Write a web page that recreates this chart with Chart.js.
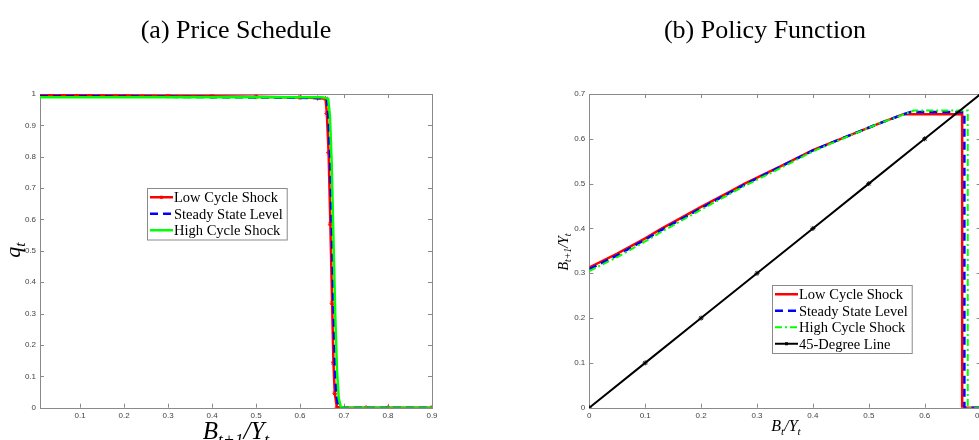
<!DOCTYPE html>
<html>
<head>
<meta charset="utf-8">
<script src="https://cdn.jsdelivr.net/npm/chart.js@4.4.1/dist/chart.umd.min.js"></script>
<style>
  html, body { margin: 0; padding: 0; background: #fff; overflow: hidden; }
  #page { position: relative; width: 979px; height: 440px; overflow: hidden; }
  canvas { position: absolute; top: 0; }
</style>
</head>
<body>
<div id="page">
  <canvas id="priceChart" width="470" height="440" style="left:0"></canvas>
  <canvas id="policyChart" width="470" height="440" style="left:530px"></canvas>
</div>
<script>
// (a) Precio: q_t contra B_{t+1}/Y_t
const priceLowX = [0.009, 0.1, 0.2, 0.3, 0.4, 0.5, 0.6, 0.64, 0.658, 0.661, 0.665, 0.669, 0.673, 0.676, 0.679, 0.684, 0.69, 0.75, 0.8, 0.9];
const priceLowQ = [0.996, 0.996, 0.995, 0.994, 0.993, 0.991, 0.989, 0.987, 0.985, 0.938, 0.813, 0.585, 0.333, 0.143, 0.046, 0.0, 0.0, 0.0, 0.0, 0.0];
const priceSteadyX = [0.009, 0.1, 0.2, 0.3, 0.4, 0.5, 0.6, 0.64, 0.661, 0.664, 0.668, 0.672, 0.676, 0.679, 0.682, 0.687, 0.693, 0.75, 0.8, 0.9];
const priceSteadyQ = [0.993, 0.993, 0.992, 0.991, 0.990, 0.989, 0.988, 0.987, 0.985, 0.94, 0.81, 0.58, 0.33, 0.14, 0.045, 0.003, 0.0, 0.0, 0.0, 0.0];
const priceHighX = [0.009, 0.1, 0.2, 0.3, 0.4, 0.5, 0.6, 0.65, 0.664, 0.668, 0.672, 0.676, 0.68, 0.684, 0.688, 0.693, 0.7, 0.75, 0.8, 0.9];
const priceHighQ = [0.99, 0.99, 0.99, 0.99, 0.99, 0.99, 0.99, 0.99, 0.985, 0.93, 0.78, 0.54, 0.3, 0.12, 0.03, 0.002, 0.0, 0.0, 0.0, 0.0];
const priceXTicks = [0.1, 0.2, 0.3, 0.4, 0.5, 0.6, 0.7, 0.8, 0.9];
const priceYTicks = [0, 0.1, 0.2, 0.3, 0.4, 0.5, 0.6, 0.7, 0.8, 0.9, 1];

// (b) Funcion de politica: B_{t+1}/Y_t contra B_t/Y_t
const policyLowX = [0, 0.05, 0.1, 0.13, 0.2, 0.25, 0.278, 0.341, 0.4, 0.46, 0.52, 0.562, 0.667, 0.667, 0.7];
const policyLowY = [0.313, 0.344, 0.378, 0.400, 0.448, 0.481, 0.500, 0.538, 0.575, 0.605, 0.635, 0.655, 0.655, 0, 0];
const policySteadyX = [0, 0.05, 0.1, 0.13, 0.2, 0.25, 0.278, 0.341, 0.4, 0.46, 0.52, 0.565, 0.575, 0.671, 0.671, 0.7];
const policySteadyY = [0.309, 0.340, 0.375, 0.397, 0.445, 0.479, 0.498, 0.537, 0.574, 0.605, 0.635, 0.656, 0.660, 0.660, 0, 0];
const policyHighX = [0, 0.05, 0.1, 0.13, 0.2, 0.25, 0.278, 0.341, 0.4, 0.46, 0.52, 0.565, 0.58, 0.677, 0.677, 0.7];
const policyHighY = [0.305, 0.336, 0.371, 0.393, 0.442, 0.476, 0.495, 0.534, 0.572, 0.604, 0.635, 0.655, 0.663, 0.663, 0, 0];
const degreeX = [0, 0.1, 0.2, 0.3, 0.4, 0.5, 0.6, 0.7];
const degreeY = [0, 0.1, 0.2, 0.3, 0.4, 0.5, 0.6, 0.7];
const policyXTicks = [0, 0.1, 0.2, 0.3, 0.4, 0.5, 0.6, 0.7];
const policyYTicks = [0, 0.1, 0.2, 0.3, 0.4, 0.5, 0.6, 0.7];

const toPoints = (xs, ys) => xs.map((x, i) => ({ x: x, y: ys[i] }));
const serif = '"Liberation Serif", serif';

// Caja estilo MATLAB con marcas hacia dentro en los cuatro lados
const boxPlugin = {
  id: 'boxAxes',
  beforeDatasetsDraw(chart) {
    const { ctx, chartArea: a, scales: { x, y } } = chart;
    ctx.save();
    ctx.strokeStyle = '#8a8a8a';
    ctx.lineWidth = 1;
    ctx.strokeRect(Math.round(a.left) + 0.5, Math.round(a.top) + 0.5,
                   Math.round(a.right - a.left), Math.round(a.bottom - a.top));
    ctx.beginPath();
    x.ticks.forEach(t => {
      const px = Math.round(x.getPixelForValue(t.value)) + 0.5;
      ctx.moveTo(px, a.bottom); ctx.lineTo(px, a.bottom - 4);
      ctx.moveTo(px, a.top); ctx.lineTo(px, a.top + 4);
    });
    y.ticks.forEach(t => {
      const py = Math.round(y.getPixelForValue(t.value)) + 0.5;
      ctx.moveTo(a.left, py); ctx.lineTo(a.left + 4, py);
      ctx.moveTo(a.right, py); ctx.lineTo(a.right - 4, py);
    });
    ctx.stroke();
    ctx.restore();
  }
};

// Etiquetas de ejes con subindices
function drawMath(ctx, parts, cx, cy, size, angle) {
  ctx.save();
  ctx.translate(cx, cy);
  ctx.rotate(angle);
  const fonts = parts.map(p => `italic ${p[1] ? size * 0.7 : size}px ${serif}`);
  let total = 0;
  const widths = parts.map((p, i) => {
    ctx.font = fonts[i];
    const w = ctx.measureText(p[0]).width;
    total += w;
    return w;
  });
  let x = -total / 2;
  ctx.fillStyle = '#000';
  ctx.textBaseline = 'alphabetic';
  parts.forEach((p, i) => {
    ctx.font = fonts[i];
    ctx.fillText(p[0], x, p[1] ? size * 0.55 : size * 0.33);
    x += widths[i];
  });
  ctx.restore();
}

const mathLabels = {
  id: 'mathLabels',
  afterDraw(chart, args, opts) {
    const ctx = chart.ctx;
    // titulo del panel
    ctx.save();
    ctx.font = `${opts.titleSize}px ${serif}`;
    ctx.fillStyle = '#000';
    ctx.textAlign = 'center';
    ctx.textBaseline = 'middle';
    ctx.fillText(opts.title, opts.titleX, opts.titleY);
    ctx.restore();
    opts.items.forEach(it => drawMath(ctx, it.parts, it.x, it.y, it.size, it.angle || 0));
  }
};

// Leyenda dentro del area del grafico
const boxLegend = {
  id: 'boxLegend',
  afterDatasetsDraw(chart, args, opts) {
    const ctx = chart.ctx;
    const sets = chart.data.datasets;
    ctx.save();
    ctx.font = `${opts.fontSize}px ${serif}`;
    const textW = Math.max(...sets.map(d => ctx.measureText(d.label).width));
    const w = 3 + opts.lineLen + 1 + textW + 4;
    const h = sets.length * opts.rowH + 2;
    ctx.fillStyle = '#fff';
    ctx.fillRect(opts.left, opts.top, w, h);
    ctx.strokeStyle = '#8a8a8a';
    ctx.lineWidth = 1;
    ctx.strokeRect(opts.left + 0.5, opts.top + 0.5, w, h);
    sets.forEach((d, i) => {
      const cy = opts.top + 1 + opts.rowH * (i + 0.5);
      const x0 = opts.left + 3, x1 = x0 + opts.lineLen;
      ctx.strokeStyle = d.borderColor;
      ctx.lineWidth = d.borderWidth;
      ctx.setLineDash(d.borderDash || []);
      ctx.beginPath();
      ctx.moveTo(x0, cy); ctx.lineTo(x1, cy);
      ctx.stroke();
      ctx.setLineDash([]);
      if (d.legendMarker) {
        ctx.fillStyle = d.borderColor;
        ctx.fillRect((x0 + x1) / 2 - 1.5, cy - 1.5, 3, 3);
      }
      ctx.fillStyle = '#000';
      ctx.textBaseline = 'middle';
      ctx.fillText(d.label, x1 + 1, cy + 1);
    });
    ctx.restore();
  }
};

const tickFont = { family: '"Liberation Sans", sans-serif', size: 8 };
const fmt = v => String(+Number(v).toFixed(2));

function axisOptions(min, max, ticks, size, isY) {
  return {
    type: 'linear',
    min: min,
    max: max,
    afterBuildTicks: s => { s.ticks = ticks.map(v => ({ value: v })); },
    afterFit: s => { if (isY) s.width = size; else s.height = size; },
    grid: { display: false, drawTicks: false },
    border: { display: false },
    ticks: { font: tickFont, color: '#444', padding: isY ? 4 : 3, autoSkip: false, maxRotation: 0, callback: fmt }
  };
}

const baseOptions = {
  responsive: false,
  animation: false,
  events: [],
  elements: { line: { tension: 0 } }
};

new Chart('priceChart', {
  type: 'scatter',
  data: {
    datasets: [
      { label: 'Low Cycle Shock', data: toPoints(priceLowX, priceLowQ), showLine: true,
        borderColor: '#ff0000', backgroundColor: '#ff0000', borderWidth: 2.5,
        pointStyle: 'star', pointRadius: 2.5, pointBorderWidth: 1, pointBorderColor: '#ff0000',
        legendMarker: true, order: 3 },
      { label: 'Steady State Level', data: toPoints(priceSteadyX, priceSteadyQ), showLine: true,
        borderColor: '#0000ff', borderWidth: 2.5, borderDash: [8, 5], pointRadius: 0, order: 2 },
      { label: 'High Cycle Shock', data: toPoints(priceHighX, priceHighQ), showLine: true,
        borderColor: '#00ff00', borderWidth: 2.5, pointRadius: 0, order: 1 }
    ]
  },
  options: Object.assign({}, baseOptions, {
    layout: { padding: { left: 0, right: 38, top: 94, bottom: 0 } },
    scales: {
      x: axisOptions(0.009, 0.9, priceXTicks, 32.3, false),
      y: axisOptions(0, 1, priceYTicks, 40, true)
    },
    plugins: {
      legend: { display: false },
      tooltip: { enabled: false },
      boxLegend: { left: 147, top: 188, rowH: 16.5, lineLen: 23, fontSize: 14.5 },
      mathLabels: {
        title: '(a) Price Schedule', titleX: 236, titleY: 31, titleSize: 26,
        items: [
          { parts: [['B', 0], ['t+1', 1], ['/Y', 0], ['t', 1]], x: 236, y: 431, size: 25 },
          { parts: [['q', 0], ['t', 1]], x: 13, y: 250, size: 22, angle: -Math.PI / 2 }
        ]
      }
    }
  }),
  plugins: [boxPlugin, boxLegend, mathLabels]
});

new Chart('policyChart', {
  type: 'scatter',
  data: {
    datasets: [
      { label: 'Low Cycle Shock', data: toPoints(policyLowX, policyLowY), showLine: true,
        borderColor: '#ff0000', borderWidth: 2.5, pointRadius: 0, order: 4 },
      { label: 'Steady State Level', data: toPoints(policySteadyX, policySteadyY), showLine: true,
        borderColor: '#0000ff', borderWidth: 2.5, borderDash: [8, 5], pointRadius: 0, order: 3 },
      { label: 'High Cycle Shock', data: toPoints(policyHighX, policyHighY), showLine: true,
        borderColor: '#00ff00', borderWidth: 2, borderDash: [7, 3, 2, 3], pointRadius: 0, order: 2 },
      { label: '45-Degree Line', data: toPoints(degreeX, degreeY), showLine: true,
        borderColor: '#000000', backgroundColor: '#000000', borderWidth: 2,
        pointStyle: 'star', pointRadius: 2.5, pointBorderWidth: 1, pointBorderColor: '#000000',
        legendMarker: true, order: 1 }
    ]
  },
  options: Object.assign({}, baseOptions, {
    layout: { padding: { left: 0, right: 19.4, top: 94, bottom: 0 } },
    scales: {
      x: axisOptions(0, 0.7, policyXTicks, 32.3, false),
      y: axisOptions(0, 0.7, policyYTicks, 59.3, true)
    },
    plugins: {
      legend: { display: false },
      tooltip: { enabled: false },
      boxLegend: { left: 242, top: 285, rowH: 16.5, lineLen: 23, fontSize: 14.5 },
      mathLabels: {
        title: '(b) Policy Function', titleX: 235, titleY: 31, titleSize: 26,
        items: [
          { parts: [['B', 0], ['t', 1], ['/Y', 0], ['t', 1]], x: 256, y: 426, size: 16 },
          { parts: [['B', 0], ['t+1', 1], ['/Y', 0], ['t', 1]], x: 33, y: 252, size: 14, angle: -Math.PI / 2 }
        ]
      }
    }
  }),
  plugins: [boxPlugin, boxLegend, mathLabels]
});
</script>
</body>
</html>
